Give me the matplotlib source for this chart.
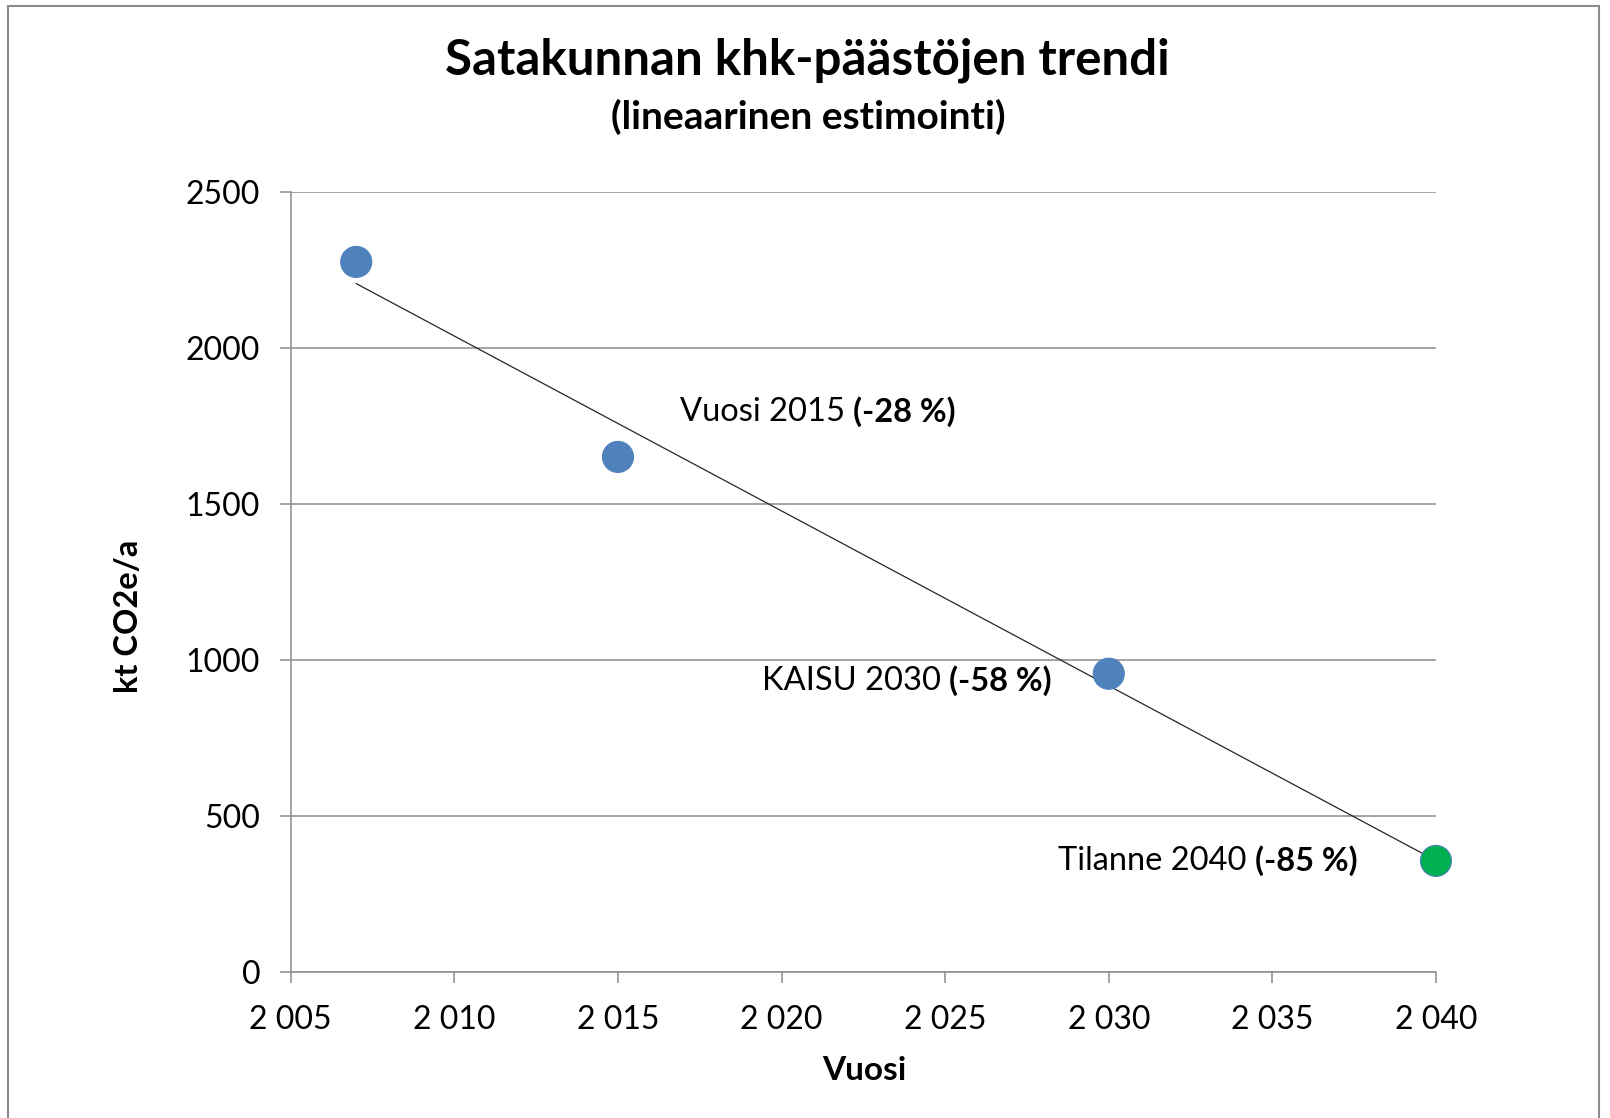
import numpy as np
import matplotlib

matplotlib.use("Agg")
import matplotlib.pyplot as plt
from matplotlib.patches import Rectangle
from matplotlib.ticker import FuncFormatter, MultipleLocator

plt.rcParams["font.family"] = ["Lato", "DejaVu Sans"]

# data
years = [2007, 2015, 2030, 2040]
emissions = [2275, 1650, 955, 355]
point_colors = ["#4F81BD", "#4F81BD", "#4F81BD", "#00B050"]

label_plain = ["Vuosi 2015", "KAISU 2030", "Tilanne 2040"]
label_bold = ["(-28 %)", "(-58 %)", "(-85 %)"]
label_pos = [(2016.9, 1794), (2019.4, 932), (2028.45, 356)]

GRID = "#8C8C8C"

fig = plt.figure(figsize=(16.10, 11.18), dpi=100)
ax = fig.add_axes([0.1806, 0.1309, 0.7113, 0.6976])

# linear trend over the data range
k, b = np.polyfit(years, emissions, 1)
tx = np.array([min(years), max(years)])
ax.plot(tx, k * tx + b, color="#262626", linewidth=0.9, zorder=2, clip_on=False)

ax.scatter(years, emissions, s=500, c=point_colors, edgecolors="#4F81BD",
           linewidths=0.8, zorder=3, clip_on=False)

for (x, y), plain, bold in zip(label_pos, label_plain, label_bold):
    t1 = ax.text(x, y, plain, fontsize=23.5, ha="left", va="center", color="black")
    ax.annotate(bold, xy=(1, 0), xycoords=t1, xytext=(6, 0),
                textcoords="offset points", fontsize=23.5, fontweight="bold",
                ha="left", va="bottom", color="black")

ax.set_xlim(2005, 2040)
ax.set_ylim(0, 2500)
ax.xaxis.set_major_locator(MultipleLocator(5))
ax.yaxis.set_major_locator(MultipleLocator(500))
ax.xaxis.set_major_formatter(FuncFormatter(lambda v, p: f"{int(round(v)):,}".replace(",", " ")))
ax.yaxis.set_major_formatter(FuncFormatter(lambda v, p: f"{int(round(v))}"))

ax.grid(axis="y", color=GRID, linewidth=1.1)
ax.set_axisbelow(True)
for side in ["top", "right"]:
    ax.spines[side].set_visible(False)
for side in ["left", "bottom"]:
    ax.spines[side].set_color(GRID)
    ax.spines[side].set_linewidth(1.1)
ax.tick_params(axis="both", direction="out", length=8, width=1.1, color=GRID,
               labelsize=23, labelcolor="black")
ax.tick_params(axis="x", pad=16)
ax.tick_params(axis="y", pad=14)

fig.text(807 / 1610, 1 - 60 / 1118, "Satakunnan khk-päästöjen trendi",
         fontsize=35.5, fontweight="bold", ha="center", va="center")
fig.text(808 / 1610, 1 - 117 / 1118, "(lineaarinen estimointi)",
         fontsize=28, fontweight="bold", ha="center", va="center")
fig.text(128 / 1610, 1 - 616 / 1118, "kt CO2e/a", fontsize=23.5, fontweight="bold",
         rotation=90, ha="center", va="center")
fig.text(864 / 1610, 1 - 1070 / 1118, "Vuosi", fontsize=24, fontweight="bold",
         ha="center", va="center")

# chart area border
fig.patches.append(Rectangle((8 / 1610, -0.02), (1599 - 8) / 1610, 1.02 - 6 / 1118,
                             transform=fig.transFigure, fill=False,
                             edgecolor="#8C8C8C", linewidth=1.5))

fig.savefig("out.png", dpi=100, facecolor="white")
